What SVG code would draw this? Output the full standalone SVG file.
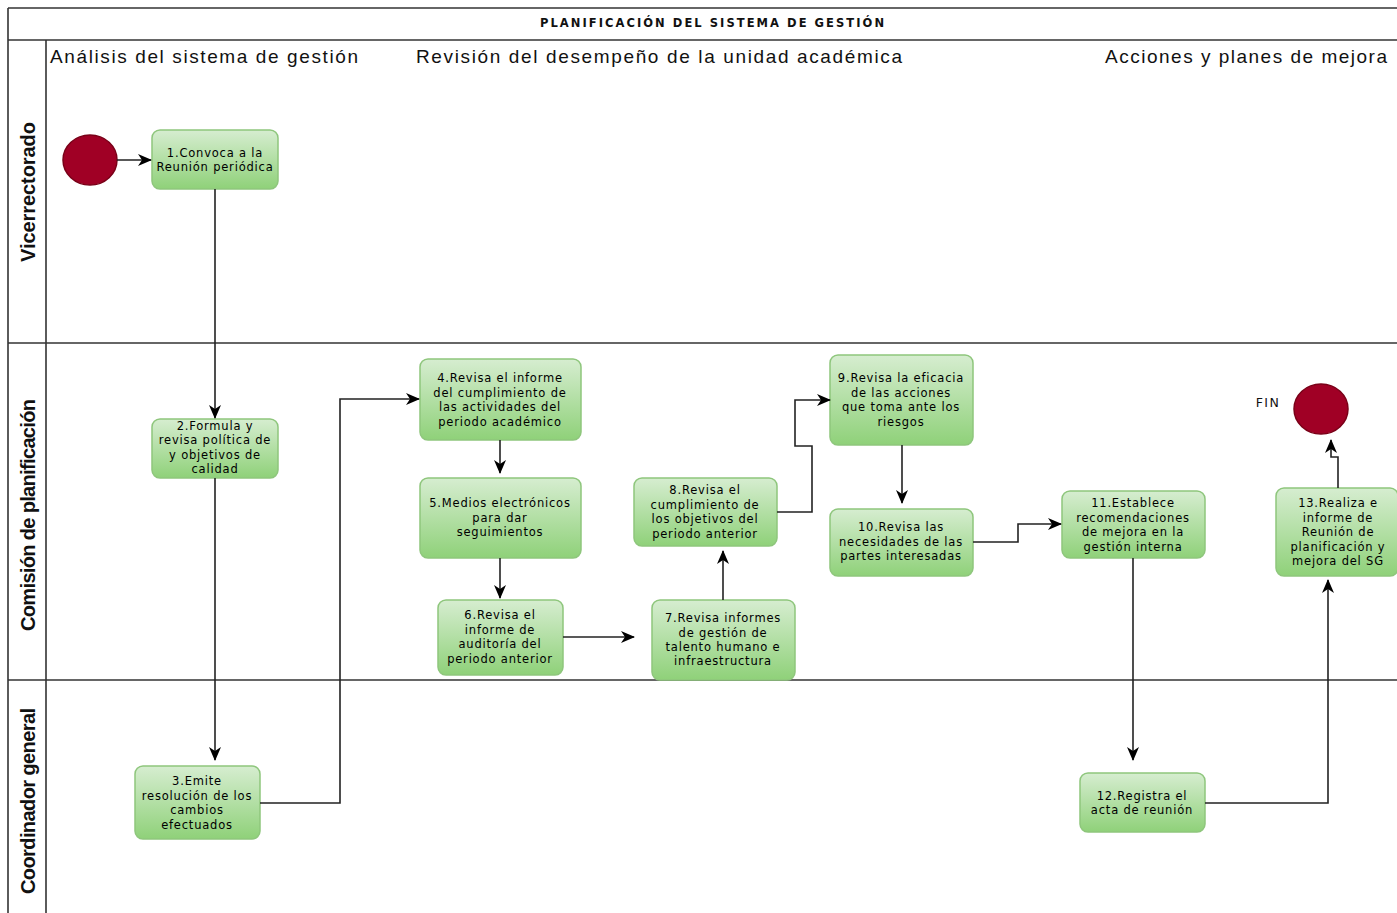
<svg xmlns="http://www.w3.org/2000/svg" width="1397" height="913" viewBox="0 0 1397 913">
<defs>
<linearGradient id="g" x1="0" y1="0" x2="0" y2="1">
<stop offset="0" stop-color="#d6edd0"/>
<stop offset="1" stop-color="#8fd179"/>
</linearGradient>
<marker id="ah" viewBox="0 0 14 14" refX="13" refY="7" markerWidth="14" markerHeight="14" markerUnits="userSpaceOnUse" orient="auto">
<path d="M0,1 L14,7 L0,13 L4,7 Z" fill="#000"/>
</marker>
<style>
.lane{stroke:#333;stroke-width:1.6;fill:none}
.node rect{fill:url(#g);stroke:#8ec67c;stroke-width:1.5}
.nt{font-family:"DejaVu Sans",sans-serif;font-size:11.5px;letter-spacing:0.8px;fill:#000;text-anchor:middle}
.ph{font-family:"Liberation Sans",Arial,sans-serif;font-size:19px;fill:#111}
.ln{font-family:"Liberation Sans Narrow","Liberation Sans",Arial,sans-serif;font-size:20px;font-weight:bold;fill:#111;text-anchor:middle}
.conn path{stroke:#222;stroke-width:1.6;fill:none;marker-end:url(#ah)}
.ev{fill:#a00025;stroke:#7a0018;stroke-width:1.5}
</style>
</defs>
<rect x="0" y="0" width="1397" height="913" fill="#fff"/>
<g id="pool">
<line class="lane" x1="8" y1="8" x2="1397" y2="8"/>
<line class="lane" x1="8" y1="40" x2="1397" y2="40"/>
<line class="lane" x1="8" y1="8" x2="8" y2="913"/>
<line class="lane" x1="46" y1="40" x2="46" y2="913"/>
<line class="lane" x1="8" y1="343" x2="1397" y2="343"/>
<line class="lane" x1="8" y1="680" x2="1397" y2="680"/>
<text x="540" y="27" font-family="DejaVu Sans,sans-serif" font-size="11.5" font-weight="bold" textLength="344" lengthAdjust="spacing" fill="#111">PLANIFICACIÓN DEL SISTEMA DE GESTIÓN</text>
<text class="ph" x="50" y="63" textLength="308">Análisis del sistema de gestión</text>
<text class="ph" x="416" y="63" textLength="486">Revisión del desempeño de la unidad académica</text>
<text class="ph" x="1105" y="63" textLength="282">Acciones y planes de mejora</text>
<text class="ln" transform="translate(35,192) rotate(-90)" textLength="140">Vicerrectorado</text>
<text class="ln" transform="translate(35,515) rotate(-90)" textLength="232">Comisión de planificación</text>
<text class="ln" transform="translate(35,801) rotate(-90)" textLength="186">Coordinador general</text>
</g>
<g id="start"><ellipse class="ev" cx="90" cy="160" rx="27" ry="25"/></g>
<g id="end"><ellipse class="ev" cx="1321" cy="409" rx="27" ry="25"/>
<text x="1268" y="407" text-anchor="middle" font-family="DejaVu Sans,sans-serif" font-size="12.5" letter-spacing="1.5" fill="#111">FIN</text></g>
<g id="n1" class="node"><rect x="152" y="130" width="126" height="59" rx="8"/>
<text class="nt"><tspan x="215" y="157">1.Convoca a la</tspan><tspan x="215" y="171">Reunión periódica</tspan></text></g>
<g id="n2" class="node"><rect x="152" y="419" width="126" height="59" rx="8"/>
<text class="nt"><tspan x="215" y="430">2.Formula y</tspan><tspan x="215" y="444">revisa política de</tspan><tspan x="215" y="459">y objetivos de</tspan><tspan x="215" y="473">calidad</tspan></text></g>
<g id="n3" class="node"><rect x="135" y="766" width="125" height="73" rx="8"/>
<text class="nt"><tspan x="197" y="785">3.Emite</tspan><tspan x="197" y="800">resolución de los</tspan><tspan x="197" y="814">cambios</tspan><tspan x="197" y="829">efectuados</tspan></text></g>
<g id="n4" class="node"><rect x="420" y="359" width="161" height="81" rx="8"/>
<text class="nt"><tspan x="500" y="382">4.Revisa el informe</tspan><tspan x="500" y="397">del cumplimiento de</tspan><tspan x="500" y="411">las actividades del</tspan><tspan x="500" y="426">periodo académico</tspan></text></g>
<g id="n5" class="node"><rect x="420" y="478" width="161" height="80" rx="8"/>
<text class="nt"><tspan x="500" y="507">5.Medios electrónicos</tspan><tspan x="500" y="522">para dar</tspan><tspan x="500" y="536">seguimientos</tspan></text></g>
<g id="n6" class="node"><rect x="438" y="600" width="125" height="75" rx="8"/>
<text class="nt"><tspan x="500" y="619">6.Revisa el</tspan><tspan x="500" y="634">informe de</tspan><tspan x="500" y="648">auditoría del</tspan><tspan x="500" y="663">periodo anterior</tspan></text></g>
<g id="n7" class="node"><rect x="652" y="600" width="143" height="80" rx="8"/>
<text class="nt"><tspan x="723" y="622">7.Revisa informes</tspan><tspan x="723" y="637">de gestión de</tspan><tspan x="723" y="651">talento humano e</tspan><tspan x="723" y="665">infraestructura</tspan></text></g>
<g id="n8" class="node"><rect x="634" y="478" width="143" height="68" rx="8"/>
<text class="nt"><tspan x="705" y="494">8.Revisa el</tspan><tspan x="705" y="509">cumplimiento de</tspan><tspan x="705" y="523">los objetivos del</tspan><tspan x="705" y="538">periodo anterior</tspan></text></g>
<g id="n9" class="node"><rect x="830" y="355" width="143" height="90" rx="8"/>
<text class="nt"><tspan x="901" y="382">9.Revisa la eficacia</tspan><tspan x="901" y="397">de las acciones</tspan><tspan x="901" y="411">que toma ante los</tspan><tspan x="901" y="426">riesgos</tspan></text></g>
<g id="n10" class="node"><rect x="830" y="509" width="143" height="67" rx="8"/>
<text class="nt"><tspan x="901" y="531">10.Revisa las</tspan><tspan x="901" y="546">necesidades de las</tspan><tspan x="901" y="560">partes interesadas</tspan></text></g>
<g id="n11" class="node"><rect x="1062" y="491" width="143" height="67" rx="8"/>
<text class="nt"><tspan x="1133" y="507">11.Establece</tspan><tspan x="1133" y="522">recomendaciones</tspan><tspan x="1133" y="536">de mejora en la</tspan><tspan x="1133" y="551">gestión interna</tspan></text></g>
<g id="n12" class="node"><rect x="1080" y="773" width="125" height="59" rx="8"/>
<text class="nt"><tspan x="1142" y="800">12.Registra el</tspan><tspan x="1142" y="814">acta de reunión</tspan></text></g>
<g id="n13" class="node"><rect x="1276" y="488" width="122" height="88" rx="8"/>
<text class="nt"><tspan x="1338" y="507">13.Realiza e</tspan><tspan x="1338" y="522">informe de</tspan><tspan x="1338" y="536">Reunión de</tspan><tspan x="1338" y="551">planificación y</tspan><tspan x="1338" y="565">mejora del SG</tspan></text></g>
<g id="connectors" class="conn">
<path d="M117,160 H151"/>
<path d="M215,189 V418"/>
<path d="M215,478 V760"/>
<path d="M260,803 H340 V399 H419"/>
<path d="M500,440 V473"/>
<path d="M500,558 V598"/>
<path d="M563,637 H634"/>
<path d="M723,600 V551"/>
<path d="M777,512 H812 V446 H795 V400 H830"/>
<path d="M902,445 V503"/>
<path d="M973,542 H1018 V524 H1061"/>
<path d="M1133,558 V760"/>
<path d="M1205,803 H1328 V580"/>
<path d="M1338,488 V457 H1331 V440"/>
</g>
</svg>
